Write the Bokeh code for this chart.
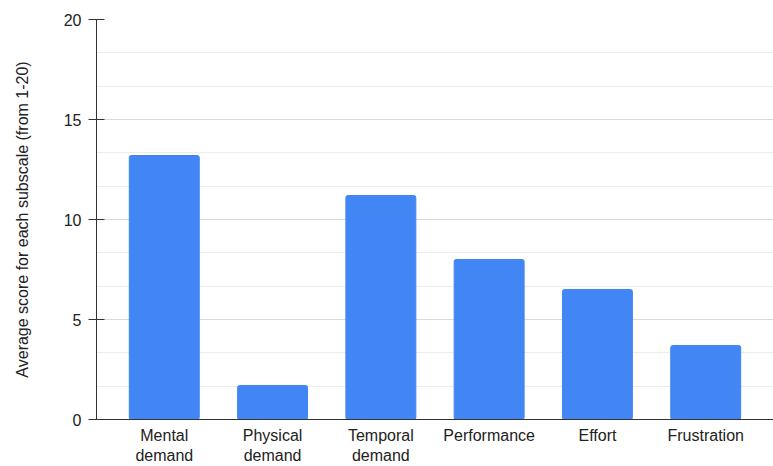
from bokeh.plotting import figure
from bokeh.models import FactorRange, Range1d, SingleIntervalTicker
from bokeh.embed import file_html
from bokeh.resources import INLINE

categories = ["Mental\ndemand", "Physical\ndemand", "Temporal\ndemand",
              "Performance", "Effort", "Frustration"]
scores = [13.2, 1.7, 11.2, 8.0, 6.5, 3.7]
y_title = "Average score for each subscale (from 1-20)"

FONT = "Liberation Sans"

p = figure(width=773, height=466, output_backend="svg", toolbar_location=None,
           x_range=FactorRange(*categories, range_padding=0.042),
           y_range=Range1d(0, 20),
           min_border_left=96, min_border_right=0, min_border_top=19,
           min_border_bottom=0)

p.vbar(x=categories, top=scores, width=0.646, color="#4285F4",
       border_radius=2)

p.outline_line_color = None
p.xgrid.grid_line_color = None
p.ygrid.grid_line_color = "#d9d9d9"
p.ygrid.minor_grid_line_color = "#ececec"

p.yaxis.ticker = SingleIntervalTicker(interval=5, num_minor_ticks=3)
p.yaxis.minor_tick_line_color = None
p.yaxis.major_tick_in = 8
p.yaxis.major_tick_out = 8
p.yaxis.major_tick_line_color = "#333333"
p.yaxis.axis_line_color = "#333333"
p.yaxis.major_label_standoff = 7
p.yaxis.axis_label = y_title
p.yaxis.axis_label_standoff = 30
p.yaxis.axis_label_text_font_style = "normal"

p.xaxis.major_tick_line_color = None
p.xaxis.minor_tick_line_color = None
p.xaxis.axis_line_color = "#333333"
p.xaxis.major_label_standoff = 1

for ax in (p.xaxis[0], p.yaxis[0]):
    ax.major_label_text_font = FONT
    ax.major_label_text_font_size = "16px"
    ax.major_label_text_color = "#222222"
    ax.axis_label_text_font = FONT
    ax.axis_label_text_font_size = "16px"
    ax.axis_label_text_color = "#222222"

open("out.html", "w").write(file_html(p, INLINE))
